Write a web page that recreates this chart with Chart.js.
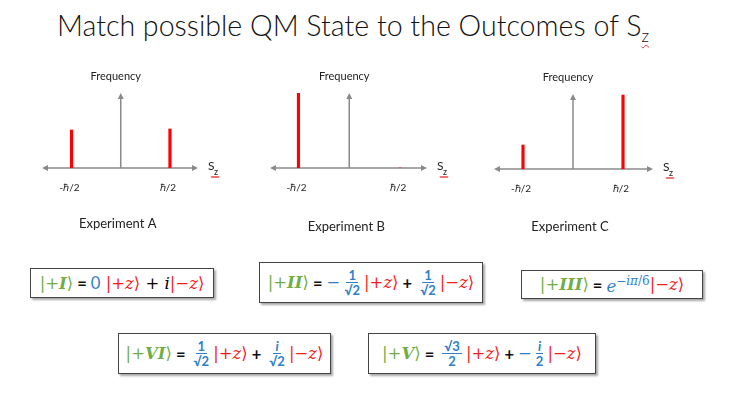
<!DOCTYPE html>
<html>
<head>
<meta charset="utf-8">
<script src="https://cdn.jsdelivr.net/npm/chart.js@4"></script>
<style>
body { margin:0; width:736px; height:394px; background:#fff; position:relative; overflow:hidden; font-family:Lato, "Open Sans", sans-serif; }
canvas { position:absolute; }
#title { position:absolute; left:57px; top:8px; font-size:28.6px; font-weight:300; color:#111; white-space:nowrap; }
#title sub { font-size:17px; vertical-align:-6px; text-decoration:underline wavy #e33; text-decoration-thickness:1px; text-underline-offset:2px; }
.box { position:absolute; border:1px solid #444; box-shadow:2px 2px 2px rgba(0,0,0,.35); background:#fff;
       display:flex; align-items:center; justify-content:center; font-family:"DejaVu Serif", serif; font-size:16.5px; white-space:nowrap; }
.g { color:#6fae45; }
.g i { font-weight:bold; }
.r { color:#f21d1d; }
.b { color:#2f7fc8; }
.op { font-family:Lato, sans-serif; font-weight:bold; margin:0 4px; color:#111; }
.fr { display:inline-flex; flex-direction:column; align-items:center; font-family:Lato, sans-serif; font-weight:bold; font-size:13px; line-height:14px; margin:0 4px; color:#2f7fc8; }
.fr span:first-child { border-bottom:1px solid #2f7fc8; padding:0 2px; }
sup { font-size:12px; }
</style>
</head>
<body>
<div id="title">Match possible QM State to the Outcomes of S<sub>z</sub></div>

<canvas id="chartA" width="230" height="190" style="left:20px;top:60px"></canvas>
<canvas id="chartB" width="230" height="190" style="left:250px;top:60px"></canvas>
<canvas id="chartC" width="230" height="190" style="left:475px;top:60px"></canvas>

<div class="box" style="left:30px;top:268px;width:182px;height:28px">
  <span class="g">|+<i>I</i>⟩</span><span class="op">=</span><span class="b" style="font-family:Lato">0</span>&nbsp;<span class="r">|+<i>z</i>⟩</span>&nbsp;+&nbsp;<i>i</i><span class="r">|−<i>z</i>⟩</span>
</div>
<div class="box" style="left:259px;top:262px;width:222px;height:39px">
  <span class="g">|+<i>II</i>⟩</span><span class="op">=</span><span class="b">−</span><span class="fr"><span>1</span><span>√2</span></span><span class="r">|+<i>z</i>⟩</span><span class="op">+</span><span class="fr"><span>1</span><span>√2</span></span><span class="r">|−<i>z</i>⟩</span>
</div>
<div class="box" style="left:521px;top:270px;width:180px;height:27px">
  <span class="g">|+<i>III</i>⟩</span><span class="op">=</span><span class="b"><i>e</i><sup>−<i>iπ</i>/6</sup></span><span class="r">|−<i>z</i>⟩</span>
</div>
<div class="box" style="left:118px;top:333px;width:211px;height:39px">
  <span class="g">|+<i>VI</i>⟩</span><span class="op">=</span><span class="fr"><span>1</span><span>√2</span></span><span class="r">|+<i>z</i>⟩</span><span class="op">+</span><span class="fr"><span><i>i</i></span><span>√2</span></span><span class="r">|−<i>z</i>⟩</span>
</div>
<div class="box" style="left:368px;top:333px;width:226px;height:39px">
  <span class="g">|+<i>V</i>⟩</span><span class="op">=</span><span class="fr"><span>√3</span><span>2</span></span><span class="r">|+<i>z</i>⟩</span><span class="op">+</span><span class="b">−</span><span class="fr"><span><i>i</i></span><span>2</span></span><span class="r">|−<i>z</i>⟩</span>
</div>

<script>
// outcomes of S_z and their tick labels
var outcomes = [-1, 1];
var outcomeLabels = ['-ℏ/2', 'ℏ/2'];

// frequency heights
var freqA = [38, 39];
var freqB = [75, 0];
var freqC = [24, 74];

var experiments = ['Experiment A', 'Experiment B', 'Experiment C'];

var axisGray = '#8a8a8a';

function arrow(ctx, x, y, dx, dy) {
    // little triangle pointing along (dx, dy)
    var len = 6, half = 3;
    ctx.beginPath();
    ctx.moveTo(x, y);
    ctx.lineTo(x - dx * len - dy * half, y - dy * len + dx * half);
    ctx.lineTo(x - dx * len + dy * half, y - dy * len - dx * half);
    ctx.closePath();
    ctx.fill();
}

var slidePlugin = {
    id: 'slide',
    beforeDatasetsDraw: function(chart) {
        var ctx = chart.ctx, a = chart.chartArea;
        var x0 = chart.scales.x.getPixelForValue(0);
        var y0 = chart.scales.y.getPixelForValue(0);
        ctx.save();
        ctx.strokeStyle = axisGray;
        ctx.fillStyle = axisGray;
        ctx.lineWidth = 1.5;
        ctx.beginPath();
        ctx.moveTo(a.left + 3, y0);
        ctx.lineTo(a.right - 3, y0);
        ctx.moveTo(x0, y0);
        ctx.lineTo(x0, a.top + 3);
        ctx.stroke();
        arrow(ctx, a.left, y0, -1, 0);
        arrow(ctx, a.right, y0, 1, 0);
        arrow(ctx, x0, a.top, 0, -1);
        ctx.restore();
    },
    afterDraw: function(chart, args, opts) {
        var ctx = chart.ctx, a = chart.chartArea;
        var xs = chart.scales.x;
        var x0 = xs.getPixelForValue(0);
        var y0 = chart.scales.y.getPixelForValue(0);
        ctx.save();
        ctx.fillStyle = '#222';
        ctx.textAlign = 'center';
        ctx.textBaseline = 'middle';
        ctx.font = '11px Lato';
        ctx.fillText('Frequency', x0 - 5, a.top - 17);
        ctx.font = '10px Lato';
        outcomes.forEach(function(v, i) {
            ctx.fillText(outcomeLabels[i], xs.getPixelForValue(v) - 2, y0 + 20);
        });
        ctx.font = '13px Lato';
        ctx.fillText(opts.caption, x0 - 3, y0 + opts.captionDy);
        // S_z
        ctx.textAlign = 'left';
        ctx.font = '12px Lato';
        ctx.fillText('S', a.right + 10, y0 - 2);
        ctx.font = '9px Lato';
        ctx.fillText('z', a.right + 16, y0 + 4);
        // spell-check squiggle
        ctx.strokeStyle = '#e33';
        ctx.lineWidth = 0.8;
        ctx.beginPath();
        for (var k = 0; k <= 8; k++) {
            var px = a.right + 13 + k;
            var py = y0 + 9 + (k % 2 ? 1 : -1);
            if (k === 0) ctx.moveTo(px, py); else ctx.lineTo(px, py);
        }
        ctx.stroke();
        ctx.restore();
    }
};

function makeChart(id, values, caption, captionDy, xmin, xmax, pad) {
    var pts = outcomes.map(function(v, i) { return { x: v, y: values[i] }; });
    return new Chart(document.getElementById(id), {
        type: 'bar',
        data: {
            datasets: [{
                data: pts,
                backgroundColor: '#ff0000',
                barThickness: 2.5
            }]
        },
        options: {
            responsive: false,
            animation: false,
            layout: { padding: pad },
            plugins: {
                legend: { display: false },
                tooltip: { enabled: false },
                slide: { caption: caption, captionDy: captionDy }
            },
            scales: {
                x: { type: 'linear', min: xmin, max: xmax, offset: false, display: false },
                y: { min: 0, max: 75, display: false }
            }
        },
        plugins: [slidePlugin]
    });
}

makeChart('chartA', freqA, experiments[0], 56, -1.6, 1.57, { left: 22, right: 52, top: 33, bottom: 82 });
makeChart('chartB', freqB, experiments[1], 59, -1.56, 1.53, { left: 20, right: 53, top: 33, bottom: 82 });
makeChart('chartC', freqC, experiments[2], 58, -1.58, 1.6, { left: 19, right: 52, top: 34, bottom: 81 });
</script>
</body>
</html>
